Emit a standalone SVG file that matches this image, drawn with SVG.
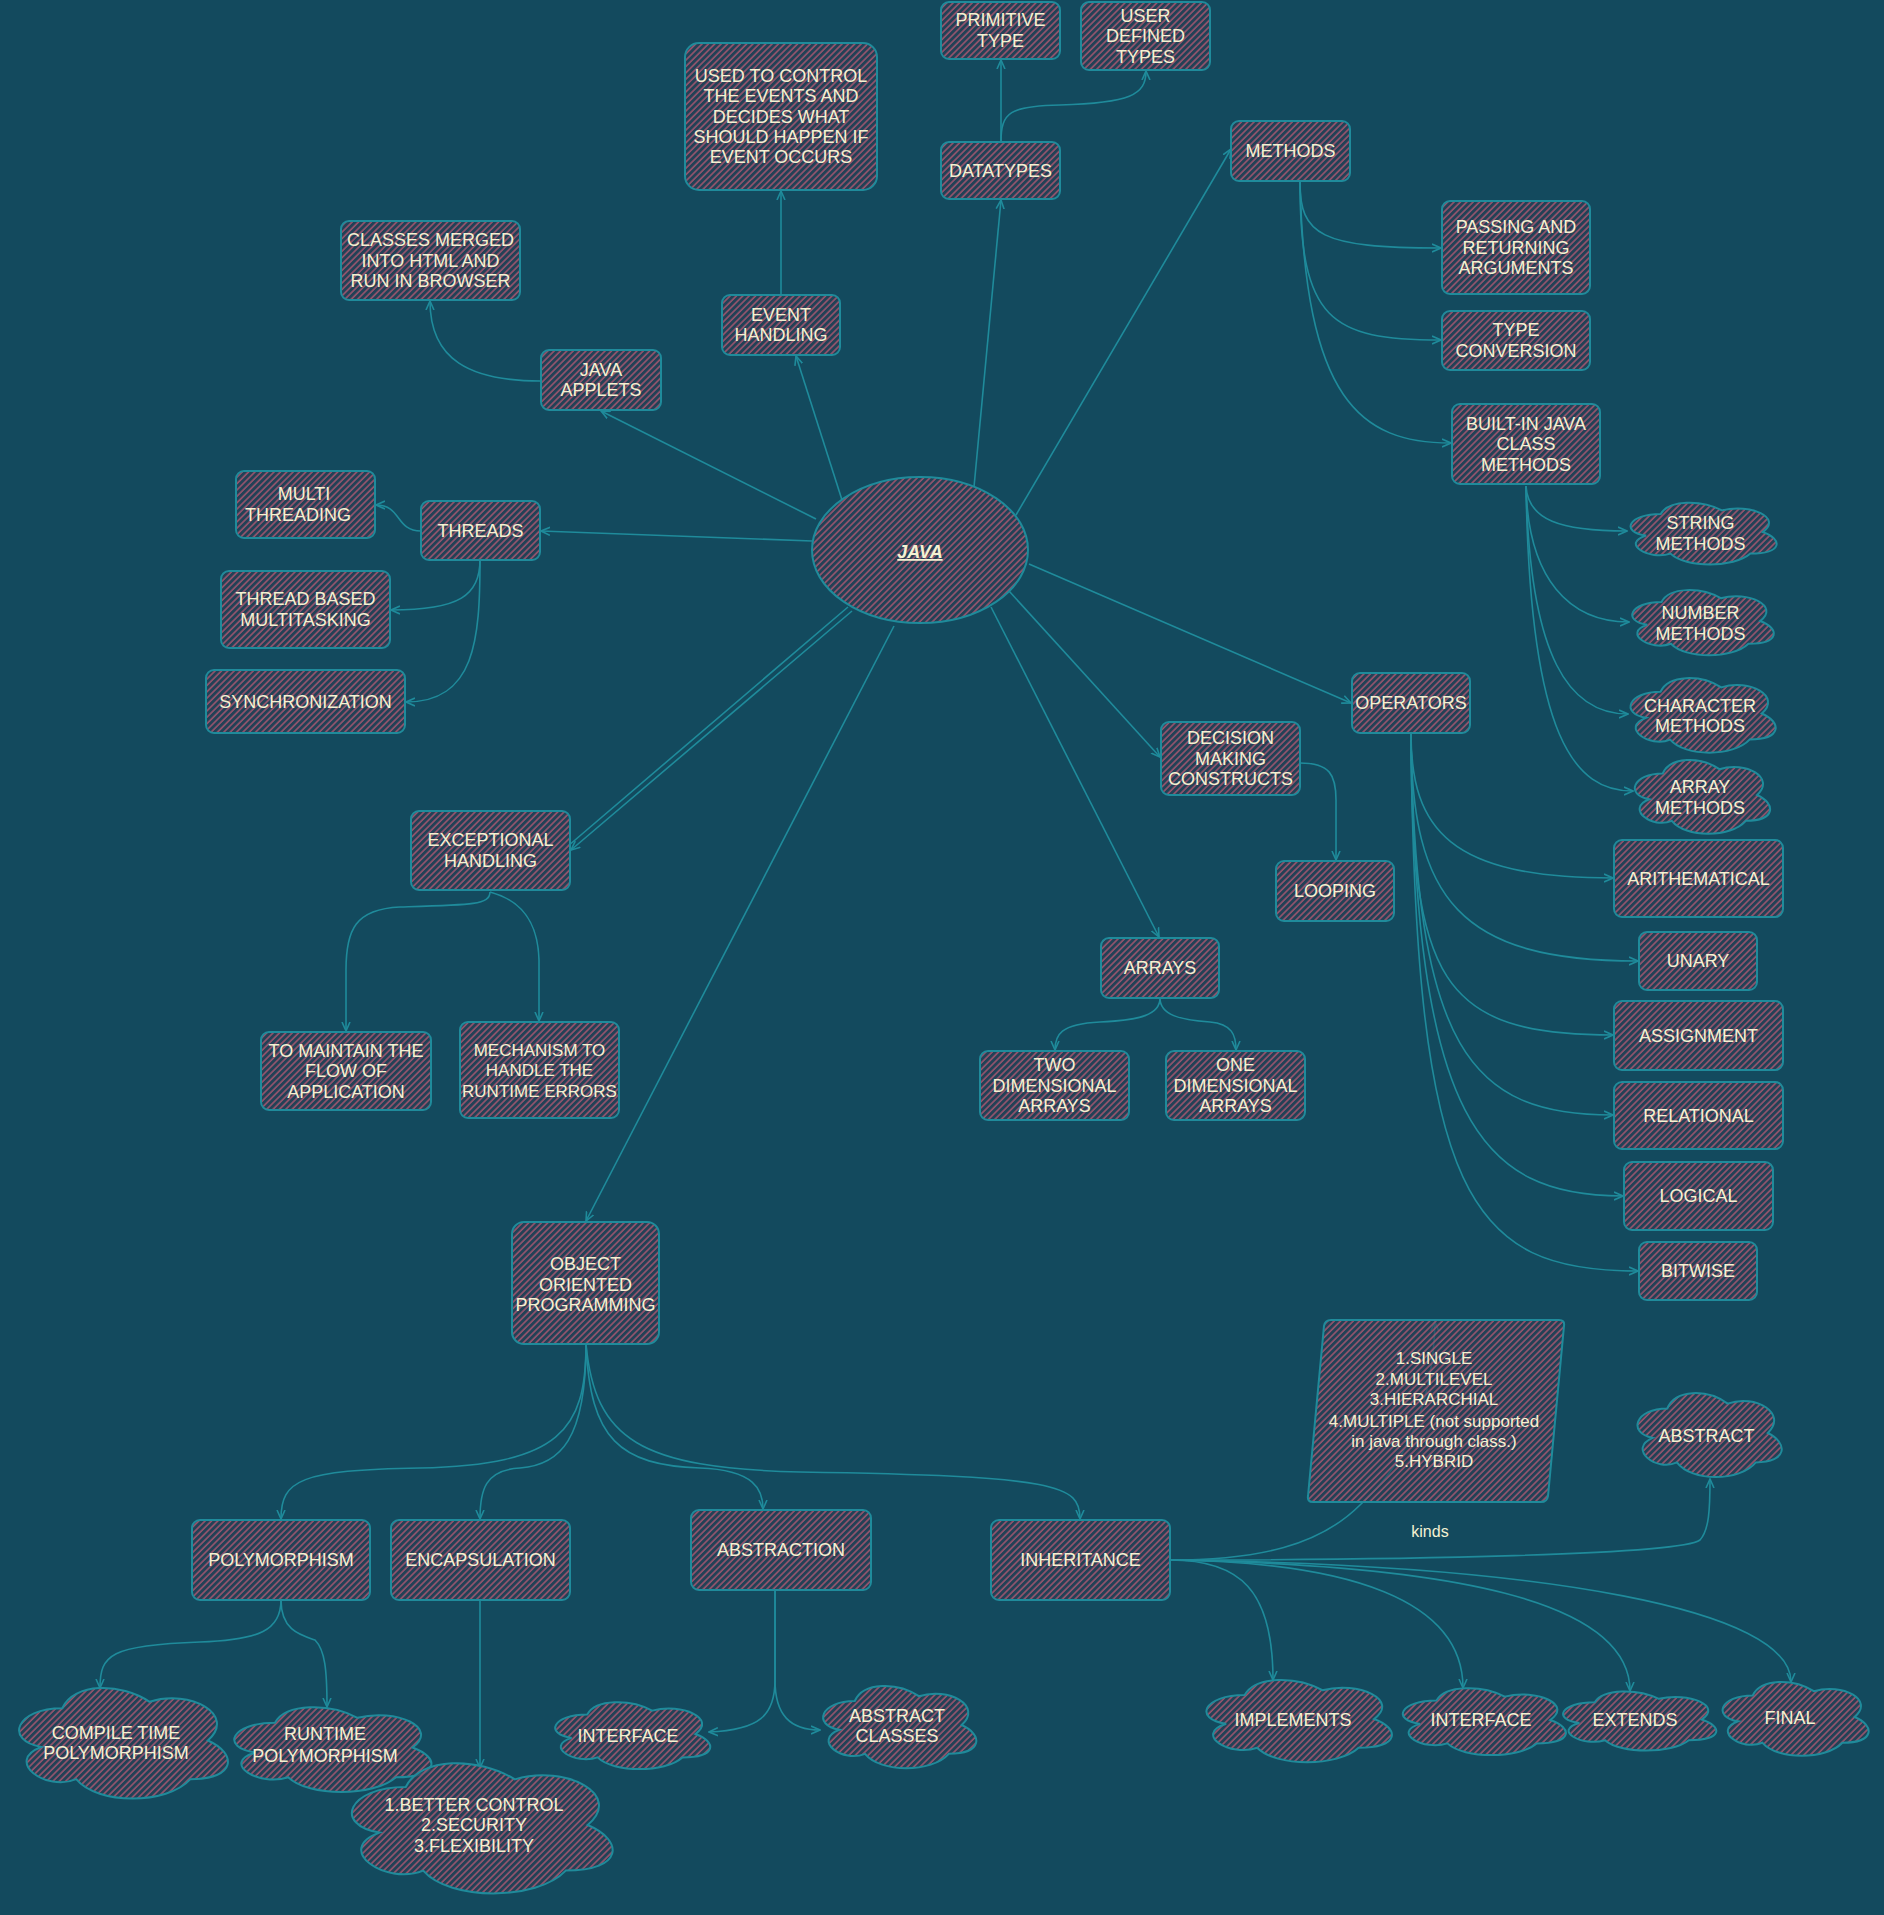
<svg xmlns="http://www.w3.org/2000/svg" xmlns:xlink="http://www.w3.org/1999/xlink" width="1884" height="1915" viewBox="0 0 1884 1915">
<style>
.n{fill:url(#h);stroke:#1f8b9b;stroke-width:2}
.cs{fill:none;stroke:#1f8b9b;stroke-width:2}
.c{fill:none;stroke:#1f8b9b;stroke-width:1.6;marker-end:url(#a)}
text{font-family:"Liberation Sans","DejaVu Sans",sans-serif;font-size:18px;fill:#f4f1d2;text-anchor:middle}
.k{font-size:16px}
.s{font-size:17px}
</style>
<defs>
<pattern id="h" width="4.5" height="4.5" patternUnits="userSpaceOnUse" patternTransform="rotate(45)">
<rect width="4.5" height="4.5" fill="#2b3a50" fill-opacity="0.6"/>
<line x1="1" y1="0" x2="1" y2="4.5" stroke="#a2566f" stroke-width="1.5"/>
</pattern>
<marker id="a" viewBox="0 0 10 10" refX="9" refY="5" markerWidth="10" markerHeight="10" markerUnits="userSpaceOnUse" orient="auto">
<path d="M0,1 L9,5 L0,9" fill="none" stroke="#1f8b9b" stroke-width="1.6"/>
</marker>
<path id="cl" vector-effect="non-scaling-stroke" d="M0.25,0.25 C0.05,0.25 0,0.5 0.16,0.55 C0,0.66 0.18,0.9 0.31,0.8 C0.4,1 0.7,1 0.8,0.8 C1,0.8 1,0.6 0.875,0.5 C1,0.3 0.8,0.1 0.625,0.2 C0.5,0.05 0.3,0.05 0.25,0.25Z"/>
<clipPath id="k17"><use href="#cl" transform="translate(1620,496) scale(163,72)"/></clipPath>
<clipPath id="k18"><use href="#cl" transform="translate(1622,583) scale(158,76)"/></clipPath>
<clipPath id="k19"><use href="#cl" transform="translate(1620,670) scale(162,87)"/></clipPath>
<clipPath id="k20"><use href="#cl" transform="translate(1625,752) scale(151,86)"/></clipPath>
<clipPath id="k39"><use href="#cl" transform="translate(1627,1384) scale(161,98)"/></clipPath>
<clipPath id="k44"><use href="#cl" transform="translate(4,1676) scale(233,129)"/></clipPath>
<clipPath id="k45"><use href="#cl" transform="translate(220,1698) scale(220,99)"/></clipPath>
<clipPath id="k46"><use href="#cl" transform="translate(333,1749) scale(291,152)"/></clipPath>
<clipPath id="k47"><use href="#cl" transform="translate(544,1695) scale(173,78)"/></clipPath>
<clipPath id="k48"><use href="#cl" transform="translate(812,1677) scale(171,96)"/></clipPath>
<clipPath id="k49"><use href="#cl" transform="translate(1193,1671) scale(207,96)"/></clipPath>
<clipPath id="k50"><use href="#cl" transform="translate(1391,1681) scale(182,78)"/></clipPath>
<clipPath id="k51"><use href="#cl" transform="translate(1552,1685) scale(171,69)"/></clipPath>
<clipPath id="k52"><use href="#cl" transform="translate(1712,1674) scale(163,86)"/></clipPath>
</defs>
<rect width="1884" height="1915" fill="#134a5e"/>

<g id="connectors">
<path class="c" d="M816,519 L601,411"/>
<path class="c" d="M842,500 L796,356"/>
<path class="c" d="M974,487 L1001,200"/>
<path class="c" d="M1016,515 L1231,149"/>
<path class="c" d="M812,541 L541,531"/>
<path class="c" d="M1029,564 L1351,703"/>
<path class="c" d="M1009,591 L1160,757"/>
<path class="c" d="M991,607 L1159,937"/>
<path class="c" d="M848,607 L568,846 M852,611 L571,850"/>
<path class="c" d="M894,626 L586,1221"/>
<path class="c" d="M541,381 C470,381 430,360 430,301"/>
<path class="c" d="M781,295 L781,191"/>
<path class="c" d="M1001,142 L1001,60"/>
<path class="c" d="M1001,142 C1001,112 1010,106 1060,105 C1130,103 1146,95 1146,71"/>
<path class="c" d="M1300,182 C1300,235 1320,248 1441,248"/>
<path class="c" d="M1300,182 C1300,320 1330,340 1441,340"/>
<path class="c" d="M1300,182 C1305,400 1360,443 1451,443"/>
<path class="c" d="M1526,486 C1528,520 1560,531 1627,531"/>
<path class="c" d="M1526,486 C1528,580 1570,622 1629,622"/>
<path class="c" d="M1526,486 C1530,660 1570,714 1628,714"/>
<path class="c" d="M1526,486 C1530,740 1575,791 1633,791"/>
<path class="c" d="M421,531 C395,531 402,505 376,505"/>
<path class="c" d="M480,560 C480,595 460,610 391,610"/>
<path class="c" d="M480,560 C480,640 475,702 406,702"/>
<path class="c" d="M1300,763 C1330,763 1336,775 1336,800 L1336,860"/>
<path class="c" d="M1411,733 C1411,830 1450,878 1613,878"/>
<path class="c" d="M1411,733 C1411,900 1460,961 1638,961"/>
<path class="c" d="M1411,733 C1411,980 1440,1035 1613,1035"/>
<path class="c" d="M1411,733 C1415,1050 1470,1115 1613,1115"/>
<path class="c" d="M1411,733 C1415,1120 1480,1196 1623,1196"/>
<path class="c" d="M1411,733 C1415,1200 1470,1271 1638,1271"/>
<path class="c" d="M490,892 C490,905 470,905 400,907 C355,909 346,930 346,970 L346,1031"/>
<path class="c" d="M490,892 C520,900 538,920 539,960 L539,1021"/>
<path class="c" d="M1160,998 C1160,1015 1140,1020 1100,1022 C1060,1024 1055,1035 1055,1050"/>
<path class="c" d="M1160,998 C1160,1015 1180,1020 1210,1022 C1232,1024 1236,1035 1236,1050"/>
<path class="c" d="M586,1344 C586,1430 560,1465 420,1468 C300,1470 281,1480 281,1519"/>
<path class="c" d="M586,1344 C586,1440 560,1465 520,1468 C485,1470 480,1490 480,1519"/>
<path class="c" d="M586,1344 C590,1440 620,1465 700,1468 C755,1470 763,1490 763,1509"/>
<path class="c" d="M586,1344 C595,1440 640,1468 800,1472 C1060,1476 1080,1485 1080,1519"/>
<path class="c" d="M281,1600 C281,1630 260,1640 200,1642 C110,1645 100,1655 100,1688"/>
<path class="c" d="M281,1600 C281,1630 300,1635 315,1640 C325,1650 327,1670 327,1707"/>
<path class="c" d="M480,1600 L480,1768"/>
<path class="c" d="M775,1590 L775,1680 C775,1715 760,1730 709,1732"/>
<path class="c" d="M775,1590 L775,1680 C775,1715 790,1730 820,1730"/>
<path class="c" d="M1170,1560 C1260,1560 1320,1545 1360,1505 C1410,1460 1433,1400 1435,1322"/>
<path class="c" d="M1170,1560 C1400,1560 1680,1555 1700,1540 C1709,1530 1710,1510 1710,1479"/>
<path class="c" d="M1170,1560 C1240,1560 1273,1590 1273,1680"/>
<path class="c" d="M1170,1560 C1350,1562 1463,1600 1463,1688"/>
<path class="c" d="M1170,1560 C1450,1565 1630,1600 1630,1691"/>
<path class="c" d="M1170,1560 C1550,1565 1791,1610 1791,1682"/>
<text class="k" x="1430" y="1537">kinds</text>
</g>

<g id="java"><ellipse class="n" cx="920" cy="550" rx="108" ry="73"/><text x="920" y="558" font-size="20" font-weight="bold" font-style="italic" text-decoration="underline">JAVA</text></g>
<g id="primitive-type"><rect class="n" x="941" y="2" width="119" height="57" rx="8"/><text x="1000.5" y="26">PRIMITIVE</text><text x="1000.5" y="47">TYPE</text></g>
<g id="user-defined-types"><rect class="n" x="1081" y="2" width="129" height="68" rx="8"/><text x="1145.5" y="21.5">USER</text><text x="1145.5" y="42">DEFINED</text><text x="1145.5" y="62.5">TYPES</text></g>
<g id="datatypes"><rect class="n" x="941" y="142" width="119" height="57" rx="8"/><text x="1000.5" y="176.5">DATATYPES</text></g>
<g id="event-control"><rect class="n" x="685" y="43" width="192" height="147" rx="14"/><text x="781" y="82">USED TO CONTROL</text><text x="781" y="102">THE EVENTS AND</text><text x="781" y="122.5">DECIDES WHAT</text><text x="781" y="143">SHOULD HAPPEN IF</text><text x="781" y="163">EVENT OCCURS</text></g>
<g id="methods"><rect class="n" x="1231" y="121" width="119" height="60" rx="8"/><text x="1290.5" y="157">METHODS</text></g>
<g id="passing"><rect class="n" x="1442" y="201" width="148" height="93" rx="8"/><text x="1516" y="233">PASSING AND</text><text x="1516" y="253.5">RETURNING</text><text x="1516" y="274">ARGUMENTS</text></g>
<g id="type-conversion"><rect class="n" x="1442" y="311" width="148" height="59" rx="8"/><text x="1516" y="336">TYPE</text><text x="1516" y="357">CONVERSION</text></g>
<g id="built-in"><rect class="n" x="1452" y="404" width="148" height="80" rx="8"/><text x="1526" y="429.5">BUILT-IN JAVA</text><text x="1526" y="450">CLASS</text><text x="1526" y="470.5">METHODS</text></g>
<g id="classes-merged"><rect class="n" x="341" y="221" width="179" height="79" rx="8"/><text x="430.5" y="246">CLASSES MERGED</text><text x="430.5" y="266.5">INTO HTML AND</text><text x="430.5" y="287">RUN IN BROWSER</text></g>
<g id="event-handling"><rect class="n" x="722" y="295" width="118" height="60" rx="8"/><text x="781" y="320.75">EVENT</text><text x="781" y="341.25">HANDLING</text></g>
<g id="java-applets"><rect class="n" x="541" y="350" width="120" height="60" rx="8"/><text x="601" y="375.75">JAVA</text><text x="601" y="396.25">APPLETS</text></g>
<g id="multi-threading"><rect class="n" x="236" y="471" width="139" height="67" rx="8"/><text x="304" y="500">MULTI</text><text x="298" y="521">THREADING</text></g>
<g id="threads"><rect class="n" x="421" y="501" width="119" height="59" rx="8"/><text x="480.5" y="536.5">THREADS</text></g>
<g id="thread-based"><rect class="n" x="221" y="571" width="169" height="77" rx="8"/><text x="305.5" y="605">THREAD BASED</text><text x="305.5" y="626">MULTITASKING</text></g>
<g id="synchronization"><rect class="n" x="206" y="670" width="199" height="63" rx="8"/><text x="305.5" y="707.5">SYNCHRONIZATION</text></g>
<g id="string-methods"><rect x="1620" y="496" width="163" height="72" fill="url(#h)" clip-path="url(#k17)"/><use href="#cl" class="cs" transform="translate(1620,496) scale(163,72)"/><text x="1700.5" y="529">STRING</text><text x="1700.5" y="550">METHODS</text></g>
<g id="number-methods"><rect x="1622" y="583" width="158" height="76" fill="url(#h)" clip-path="url(#k18)"/><use href="#cl" class="cs" transform="translate(1622,583) scale(158,76)"/><text x="1700.5" y="619">NUMBER</text><text x="1700.5" y="640">METHODS</text></g>
<g id="character-methods"><rect x="1620" y="670" width="162" height="87" fill="url(#h)" clip-path="url(#k19)"/><use href="#cl" class="cs" transform="translate(1620,670) scale(162,87)"/><text x="1700" y="712">CHARACTER</text><text x="1700" y="732">METHODS</text></g>
<g id="array-methods"><rect x="1625" y="752" width="151" height="86" fill="url(#h)" clip-path="url(#k20)"/><use href="#cl" class="cs" transform="translate(1625,752) scale(151,86)"/><text x="1700" y="793">ARRAY</text><text x="1700" y="814">METHODS</text></g>
<g id="operators"><rect class="n" x="1352" y="673" width="118" height="60" rx="8"/><text x="1411" y="709">OPERATORS</text></g>
<g id="decision"><rect class="n" x="1161" y="722" width="139" height="73" rx="8"/><text x="1230.5" y="744">DECISION</text><text x="1230.5" y="764.5">MAKING</text><text x="1230.5" y="785">CONSTRUCTS</text></g>
<g id="looping"><rect class="n" x="1276" y="861" width="118" height="60" rx="8"/><text x="1335" y="897">LOOPING</text></g>
<g id="arithematical"><rect class="n" x="1614" y="840" width="169" height="77" rx="8"/><text x="1698.5" y="884.5">ARITHEMATICAL</text></g>
<g id="unary"><rect class="n" x="1639" y="932" width="118" height="58" rx="8"/><text x="1698" y="967">UNARY</text></g>
<g id="assignment"><rect class="n" x="1614" y="1001" width="169" height="69" rx="8"/><text x="1698.5" y="1041.5">ASSIGNMENT</text></g>
<g id="relational"><rect class="n" x="1614" y="1082" width="169" height="67" rx="8"/><text x="1698.5" y="1121.5">RELATIONAL</text></g>
<g id="logical"><rect class="n" x="1624" y="1162" width="149" height="68" rx="8"/><text x="1698.5" y="1202">LOGICAL</text></g>
<g id="bitwise"><rect class="n" x="1639" y="1242" width="118" height="58" rx="8"/><text x="1698" y="1277">BITWISE</text></g>
<g id="exceptional"><rect class="n" x="411" y="811" width="159" height="79" rx="8"/><text x="490.5" y="846">EXCEPTIONAL</text><text x="490.5" y="867">HANDLING</text></g>
<g id="arrays"><rect class="n" x="1101" y="938" width="118" height="60" rx="8"/><text x="1160" y="974">ARRAYS</text></g>
<g id="maintain-flow"><rect class="n" x="261" y="1032" width="170" height="78" rx="8"/><text x="346" y="1056.5">TO MAINTAIN THE</text><text x="346" y="1077">FLOW OF</text><text x="346" y="1097.5">APPLICATION</text></g>
<g id="mechanism"><rect class="n" x="460" y="1022" width="159" height="96" rx="8"/><text class="s" x="539.5" y="1055.5">MECHANISM TO</text><text class="s" x="539.5" y="1076">HANDLE THE</text><text class="s" x="539.5" y="1096.5">RUNTIME ERRORS</text></g>
<g id="two-dim"><rect class="n" x="980" y="1051" width="149" height="69" rx="8"/><text x="1054.5" y="1071">TWO</text><text x="1054.5" y="1091.5">DIMENSIONAL</text><text x="1054.5" y="1112">ARRAYS</text></g>
<g id="one-dim"><rect class="n" x="1166" y="1051" width="139" height="69" rx="8"/><text x="1235.5" y="1071">ONE</text><text x="1235.5" y="1091.5">DIMENSIONAL</text><text x="1235.5" y="1112">ARRAYS</text></g>
<g id="oop"><rect class="n" x="512" y="1222" width="147" height="122" rx="12"/><text x="585.5" y="1270">OBJECT</text><text x="585.5" y="1291">ORIENTED</text><text x="585.5" y="1311">PROGRAMMING</text></g>
<g id="kinds-list"><path class="n" d="M1331,1320 L1559,1320 Q1565,1320 1564,1326 L1548,1496 Q1547,1502 1541,1502 L1313,1502 Q1307,1502 1308,1496 L1324,1326 Q1325,1320 1331,1320Z"/><text class="s" x="1434" y="1364">1.SINGLE</text><text class="s" x="1434" y="1385">2.MULTILEVEL</text><text class="s" x="1434" y="1405">3.HIERARCHIAL</text><text class="s" x="1434" y="1427">4.MULTIPLE (not supported</text><text class="s" x="1434" y="1447">in java through class.)</text><text class="s" x="1434" y="1467">5.HYBRID</text></g>
<g id="abstract"><rect x="1627" y="1384" width="161" height="98" fill="url(#h)" clip-path="url(#k39)"/><use href="#cl" class="cs" transform="translate(1627,1384) scale(161,98)"/><text x="1706.5" y="1441.5">ABSTRACT</text></g>
<g id="polymorphism"><rect class="n" x="192" y="1520" width="178" height="80" rx="8"/><text x="281" y="1566">POLYMORPHISM</text></g>
<g id="encapsulation"><rect class="n" x="391" y="1520" width="179" height="80" rx="8"/><text x="480.5" y="1566">ENCAPSULATION</text></g>
<g id="abstraction"><rect class="n" x="691" y="1510" width="180" height="80" rx="8"/><text x="781" y="1556">ABSTRACTION</text></g>
<g id="inheritance"><rect class="n" x="991" y="1520" width="179" height="80" rx="8"/><text x="1080.5" y="1566">INHERITANCE</text></g>
<g id="compile-time"><rect x="4" y="1676" width="233" height="129" fill="url(#h)" clip-path="url(#k44)"/><use href="#cl" class="cs" transform="translate(4,1676) scale(233,129)"/><text x="116" y="1739">COMPILE TIME</text><text x="116" y="1759">POLYMORPHISM</text></g>
<g id="runtime"><rect x="220" y="1698" width="220" height="99" fill="url(#h)" clip-path="url(#k45)"/><use href="#cl" class="cs" transform="translate(220,1698) scale(220,99)"/><text x="325" y="1740">RUNTIME</text><text x="325" y="1762">POLYMORPHISM</text></g>
<g id="better-control"><rect x="333" y="1749" width="291" height="152" fill="url(#h)" clip-path="url(#k46)"/><use href="#cl" class="cs" transform="translate(333,1749) scale(291,152)"/><text x="474" y="1811">1.BETTER CONTROL</text><text x="474" y="1831">2.SECURITY</text><text x="474" y="1852">3.FLEXIBILITY</text></g>
<g id="interface-abs"><rect x="544" y="1695" width="173" height="78" fill="url(#h)" clip-path="url(#k47)"/><use href="#cl" class="cs" transform="translate(544,1695) scale(173,78)"/><text x="628" y="1742">INTERFACE</text></g>
<g id="abstract-classes"><rect x="812" y="1677" width="171" height="96" fill="url(#h)" clip-path="url(#k48)"/><use href="#cl" class="cs" transform="translate(812,1677) scale(171,96)"/><text x="897" y="1722">ABSTRACT</text><text x="897" y="1742">CLASSES</text></g>
<g id="implements"><rect x="1193" y="1671" width="207" height="96" fill="url(#h)" clip-path="url(#k49)"/><use href="#cl" class="cs" transform="translate(1193,1671) scale(207,96)"/><text x="1293" y="1726">IMPLEMENTS</text></g>
<g id="interface-inh"><rect x="1391" y="1681" width="182" height="78" fill="url(#h)" clip-path="url(#k50)"/><use href="#cl" class="cs" transform="translate(1391,1681) scale(182,78)"/><text x="1481" y="1726">INTERFACE</text></g>
<g id="extends"><rect x="1552" y="1685" width="171" height="69" fill="url(#h)" clip-path="url(#k51)"/><use href="#cl" class="cs" transform="translate(1552,1685) scale(171,69)"/><text x="1635" y="1726">EXTENDS</text></g>
<g id="final"><rect x="1712" y="1674" width="163" height="86" fill="url(#h)" clip-path="url(#k52)"/><use href="#cl" class="cs" transform="translate(1712,1674) scale(163,86)"/><text x="1790" y="1724">FINAL</text></g>
</svg>
